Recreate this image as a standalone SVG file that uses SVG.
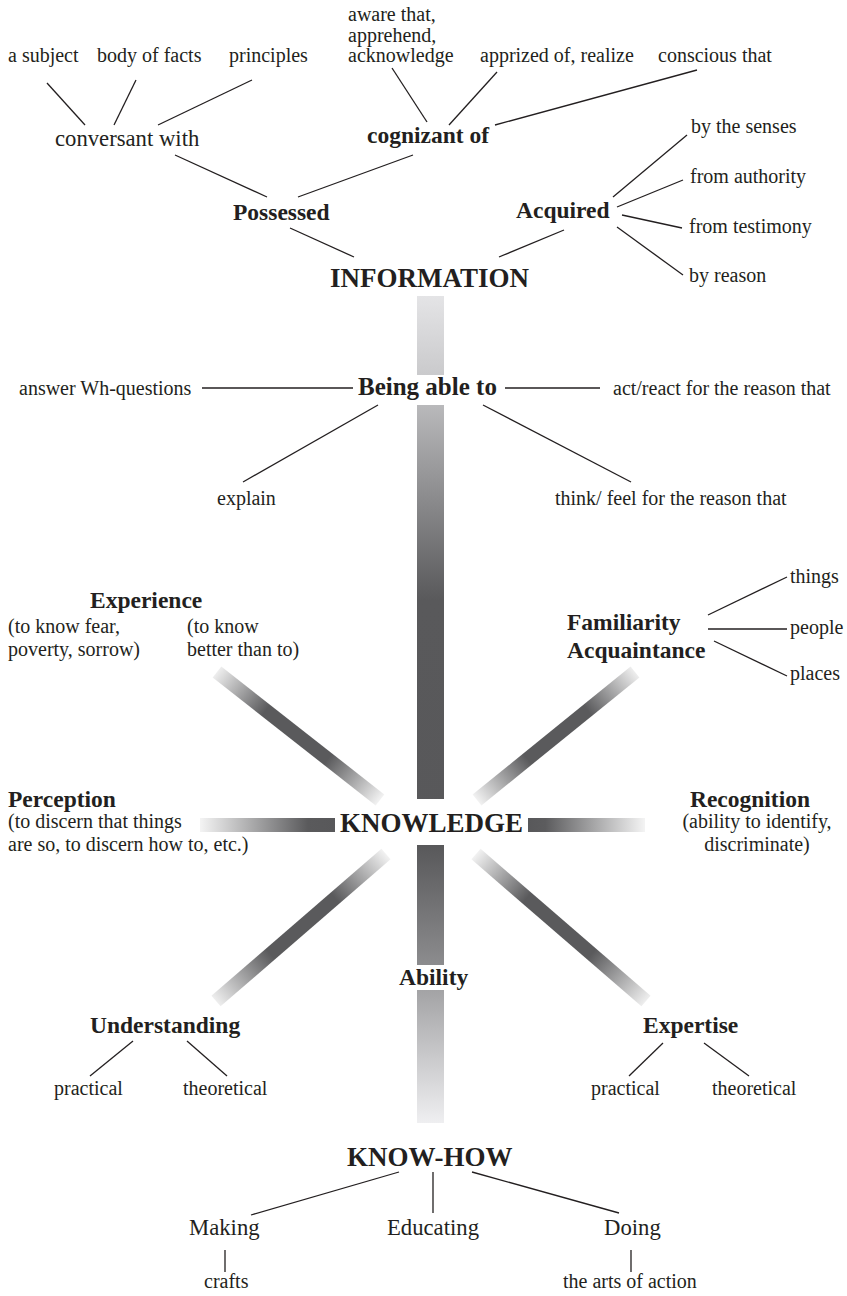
<svg xmlns="http://www.w3.org/2000/svg" width="847" height="1296" viewBox="0 0 847 1296">
  <style>
    text { font-family: "Liberation Serif", "Times New Roman", serif; fill: #231f20; }
    .s { font-size: 20px; }
    .m { font-size: 22.7px; }
    .b { font-size: 23.5px; font-weight: bold; }
    .big { font-size: 27px; font-weight: bold; }
    .c { text-anchor: middle; }
    .ln line, .ln polyline { stroke: #231f20; stroke-width: 1.3; fill: none; }
  </style>
  <defs>
    <!-- central spine: light at the top, dark around KNOWLEDGE, fading out toward KNOW-HOW -->
    <linearGradient id="spine" gradientUnits="userSpaceOnUse" x1="0" y1="296" x2="0" y2="1123">
      <stop offset="0" stop-color="#e4e4e6"/>
      <stop offset="0.0955" stop-color="#cacacc"/>
      <stop offset="0.132" stop-color="#b9b9bb"/>
      <stop offset="0.368" stop-color="#59595b"/>
      <stop offset="0.664" stop-color="#58585a"/>
      <stop offset="0.809" stop-color="#8c8c8e"/>
      <stop offset="0.839" stop-color="#a3a3a5"/>
      <stop offset="1" stop-color="#efeff1"/>
    </linearGradient>
    <linearGradient id="gUL" gradientUnits="userSpaceOnUse" x1="217" y1="672" x2="380" y2="800">
      <stop offset="0" stop-color="#eeeeee"/><stop offset="0.3" stop-color="#5a5a5c"/>
      <stop offset="0.68" stop-color="#5a5a5c"/><stop offset="1" stop-color="#f2f2f2"/>
    </linearGradient>
    <linearGradient id="gUR" gradientUnits="userSpaceOnUse" x1="635" y1="672" x2="477" y2="800">
      <stop offset="0" stop-color="#eeeeee"/><stop offset="0.3" stop-color="#5a5a5c"/>
      <stop offset="0.68" stop-color="#5a5a5c"/><stop offset="1" stop-color="#f2f2f2"/>
    </linearGradient>
    <linearGradient id="gLL" gradientUnits="userSpaceOnUse" x1="386" y1="854" x2="216" y2="1001">
      <stop offset="0" stop-color="#f2f2f2"/><stop offset="0.3" stop-color="#5a5a5c"/>
      <stop offset="0.68" stop-color="#5a5a5c"/><stop offset="1" stop-color="#eeeeee"/>
    </linearGradient>
    <linearGradient id="gLR" gradientUnits="userSpaceOnUse" x1="476" y1="854" x2="646" y2="1001">
      <stop offset="0" stop-color="#f2f2f2"/><stop offset="0.3" stop-color="#5a5a5c"/>
      <stop offset="0.68" stop-color="#5a5a5c"/><stop offset="1" stop-color="#eeeeee"/>
    </linearGradient>
    <linearGradient id="gL" gradientUnits="userSpaceOnUse" x1="200" y1="0" x2="335" y2="0">
      <stop offset="0" stop-color="#f4f4f4"/><stop offset="0.8" stop-color="#5a5a5c"/><stop offset="1" stop-color="#58585a"/>
    </linearGradient>
    <linearGradient id="gR" gradientUnits="userSpaceOnUse" x1="528" y1="0" x2="645" y2="0">
      <stop offset="0" stop-color="#58585a"/><stop offset="0.15" stop-color="#5c5c5e"/><stop offset="1" stop-color="#f4f4f4"/>
    </linearGradient>
  </defs>

  <rect width="847" height="1296" fill="#ffffff"/>

  <!-- shaded bars radiating from KNOWLEDGE -->
  <g id="bars">
    <rect x="417" y="296" width="27" height="79" fill="url(#spine)"/>
    <rect x="417" y="405" width="27" height="394" fill="url(#spine)"/>
    <rect x="417" y="845" width="27" height="120" fill="url(#spine)"/>
    <rect x="417" y="990" width="27" height="133" fill="url(#spine)"/>
    <rect x="200" y="818" width="135" height="14" fill="url(#gL)"/>
    <rect x="528" y="818" width="117" height="14" fill="url(#gR)"/>
    <line x1="217" y1="672" x2="380" y2="800" stroke="url(#gUL)" stroke-width="14"/>
    <line x1="635" y1="672" x2="477" y2="800" stroke="url(#gUR)" stroke-width="14"/>
    <line x1="386" y1="854" x2="216" y2="1001" stroke="url(#gLL)" stroke-width="14"/>
    <line x1="476" y1="854" x2="646" y2="1001" stroke="url(#gLR)" stroke-width="14"/>
  </g>

  <!-- thin connectors -->
  <g id="connectors" class="ln">
    <line x1="47" y1="83" x2="85" y2="125"/>
    <line x1="136" y1="80" x2="114" y2="125"/>
    <line x1="252" y1="80" x2="158" y2="125"/>
    <line x1="392" y1="68" x2="427" y2="122"/>
    <line x1="497" y1="72" x2="449" y2="125"/>
    <line x1="697" y1="70" x2="495" y2="125"/>
    <line x1="175" y1="155" x2="267" y2="197"/>
    <line x1="413" y1="155" x2="298" y2="197"/>
    <line x1="290" y1="228" x2="354" y2="257"/>
    <line x1="564" y1="230" x2="499" y2="257"/>
    <line x1="613" y1="197" x2="687" y2="135"/>
    <line x1="617" y1="207" x2="683" y2="180"/>
    <line x1="622" y1="215" x2="682" y2="228"/>
    <line x1="617" y1="227" x2="683" y2="275"/>
    <line x1="202" y1="388" x2="353" y2="388"/>
    <line x1="505" y1="388" x2="600" y2="388"/>
    <line x1="378" y1="405" x2="243" y2="482"/>
    <line x1="483" y1="405" x2="631" y2="482"/>
    <line x1="708" y1="615" x2="787" y2="577"/>
    <line x1="708" y1="629" x2="787" y2="629"/>
    <line x1="714" y1="641" x2="787" y2="676"/>
    <line x1="133" y1="1041" x2="90" y2="1076"/>
    <line x1="187" y1="1041" x2="227" y2="1076"/>
    <line x1="663" y1="1043" x2="629" y2="1076"/>
    <line x1="704" y1="1043" x2="749" y2="1076"/>
    <line x1="399" y1="1172" x2="251" y2="1215"/>
    <line x1="433" y1="1172" x2="433" y2="1213"/>
    <line x1="472" y1="1172" x2="619" y2="1213"/>
    <line x1="225" y1="1250" x2="225" y2="1272"/>
    <line x1="631" y1="1250" x2="631" y2="1272"/>
  </g>

  <!-- INFORMATION branch -->
  <g id="information"><text class="big" x="330" y="287">INFORMATION</text></g>
  <g id="possessed"><text class="b" x="233" y="220">Possessed</text></g>
  <g id="acquired"><text class="b" x="516" y="218">Acquired</text></g>
  <g id="conversant-with"><text class="m" x="55" y="146">conversant with</text></g>
  <g id="cognizant-of"><text class="b" x="367" y="143">cognizant of</text></g>
  <g id="a-subject"><text class="s" x="8" y="62">a subject</text></g>
  <g id="body-of-facts"><text class="s" x="97" y="62">body of facts</text></g>
  <g id="principles"><text class="s" x="229" y="62">principles</text></g>
  <g id="aware-that">
    <text class="s" x="348" y="21">aware that,</text>
    <text class="s" x="348" y="41.5">apprehend,</text>
    <text class="s" x="348" y="62">acknowledge</text>
  </g>
  <g id="apprized-of"><text class="s" x="480" y="62">apprized of, realize</text></g>
  <g id="conscious-that"><text class="s" x="658" y="62">conscious that</text></g>
  <g id="by-the-senses"><text class="s" x="691" y="133">by the senses</text></g>
  <g id="from-authority"><text class="s" x="690" y="183">from authority</text></g>
  <g id="from-testimony"><text class="s" x="689" y="233">from testimony</text></g>
  <g id="by-reason"><text class="s" x="689" y="282">by reason</text></g>

  <!-- Being able to -->
  <g id="being-able-to"><text class="b" x="358" y="395" style="font-size:25px">Being able to</text></g>
  <g id="answer-wh"><text class="s" x="19" y="395">answer Wh-questions</text></g>
  <g id="act-react"><text class="s" x="613" y="395">act/react for the reason that</text></g>
  <g id="explain"><text class="s" x="217" y="505">explain</text></g>
  <g id="think-feel"><text class="s" x="555" y="505">think/ feel for the reason that</text></g>

  <!-- facets of KNOWLEDGE -->
  <g id="experience">
    <text class="b" x="90" y="608">Experience</text>
    <text class="s" x="8" y="633">(to know fear,</text>
    <text class="s" x="8" y="656">poverty, sorrow)</text>
    <text class="s" x="187" y="633">(to know</text>
    <text class="s" x="187" y="656">better than to)</text>
  </g>
  <g id="familiarity">
    <text class="b" x="567" y="630">Familiarity</text>
    <text class="b" x="567" y="658">Acquaintance</text>
  </g>
  <g id="things"><text class="s" x="790" y="583">things</text></g>
  <g id="people"><text class="s" x="790" y="634">people</text></g>
  <g id="places"><text class="s" x="790" y="680">places</text></g>
  <g id="perception">
    <text class="b" x="8" y="807">Perception</text>
    <text class="s" x="8" y="828">(to discern that things</text>
    <text class="s" x="8" y="851">are so, to discern how to, etc.)</text>
  </g>
  <g id="recognition">
    <text class="b c" x="750" y="807">Recognition</text>
    <text class="s c" x="757" y="828">(ability to identify,</text>
    <text class="s c" x="757" y="851">discriminate)</text>
  </g>
  <g id="knowledge"><text class="big" x="340" y="832">KNOWLEDGE</text></g>
  <g id="ability"><text class="b" x="399" y="985">Ability</text></g>
  <g id="understanding">
    <text class="b" x="90" y="1033">Understanding</text>
    <text class="s" x="54" y="1095">practical</text>
    <text class="s" x="183" y="1095">theoretical</text>
  </g>
  <g id="expertise">
    <text class="b" x="643" y="1033">Expertise</text>
    <text class="s" x="591" y="1095">practical</text>
    <text class="s" x="712" y="1095">theoretical</text>
  </g>

  <!-- KNOW-HOW branch -->
  <g id="know-how"><text class="big" x="347" y="1166">KNOW-HOW</text></g>
  <g id="making"><text class="m" x="189" y="1235">Making</text></g>
  <g id="educating"><text class="m" x="387" y="1235">Educating</text></g>
  <g id="doing"><text class="m" x="604" y="1235">Doing</text></g>
  <g id="crafts"><text class="s" x="204" y="1288">crafts</text></g>
  <g id="arts-of-action"><text class="s" x="563" y="1288">the arts of action</text></g>
</svg>
